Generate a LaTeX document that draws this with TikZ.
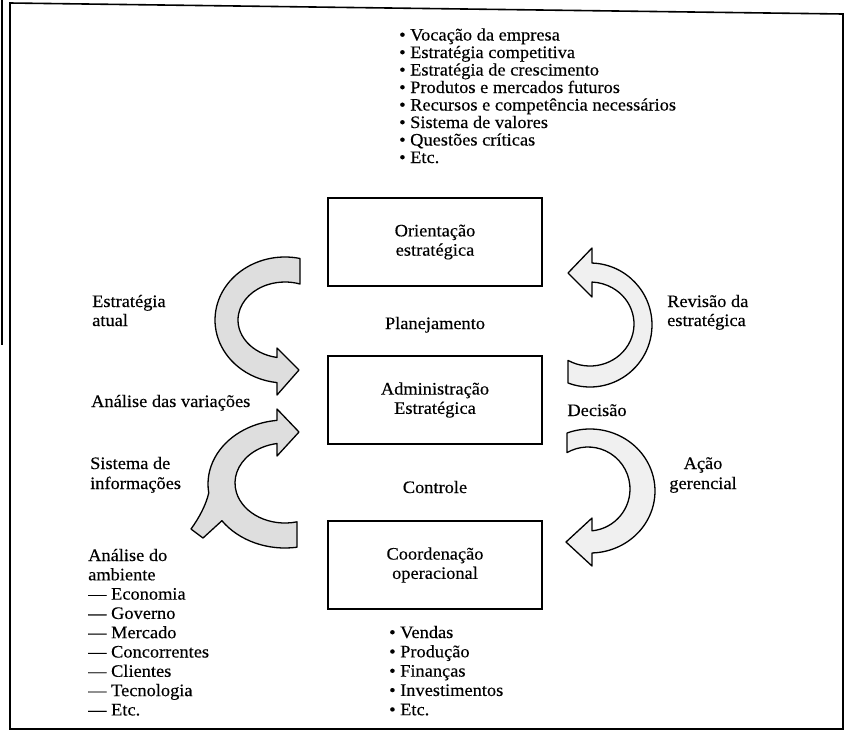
\documentclass[tikz,border=0pt]{standalone}
\usepackage{fontspec}
\setmainfont{Liberation Serif}[FakeStretch=1.05, FakeBold=0.3]
\usetikzlibrary{calc}

\begin{document}
\begin{tikzpicture}[x=1pt,y=-1pt,
  txt/.style={font=\fontsize{17.5}{19.3}\selectfont, inner sep=0pt},
  lft/.style={txt, anchor=base west},
  ctr/.style={txt, anchor=base},
  blk/.style={draw, line width=1.6pt, minimum width=214pt, minimum height=88pt,
              align=center, inner sep=0pt, font=\fontsize{17.5}{19.3}\selectfont},
  flowL/.style={draw, line width=1.3pt, fill=black!13, line join=round},
  flowR/.style={draw, line width=1.3pt, fill=black!6, line join=round}
]
\useasboundingbox (0,0) rectangle (845,732);

% outer frame
\draw[line width=1.6pt] (10,3) -- (843,14) -- (843,729) -- (10,729) -- cycle;
\draw[line width=1.4pt] (2,0) -- (2,345);

% three blocks
\node[blk] (ori) at (435,242) {Orientação\\estratégica};
\node[blk] (adm) at (435,400) {Administração\\Estratégica};
\node[blk] (coo) at (435,565) {Coordenação\\operacional};

% list above the strategic orientation block
\foreach \t [count=\i from 0] in {Vocação da empresa, Estratégia competitiva,
    Estratégia de crescimento, Produtos e mercados futuros,
    Recursos e competência necessários, Sistema de valores,
    Questões críticas, Etc.}
  \node[lft] (top\i) at (399,40.5+17.5*\i) {• \t};

% list below the operational block
\foreach \t [count=\i from 0] in {Vendas, Produção, Finanças, Investimentos, Etc.}
  \node[lft] (bot\i) at (389,638+19.3*\i) {• \t};

% environment analysis list
\node[lft] (amb0) at (88,561) {Análise do};
\node[lft] (amb1) at (88,580.3) {ambiente};
\foreach \t [count=\i from 2] in {Economia, Governo, Mercado, Concorrentes,
    Clientes, Tecnologia, Etc.}
  \node[lft] (amb\i) at (88,561+19.3*\i) {— \t};

% left labels
\node[lft] (ea1) at (92,307) {Estratégia};
\node[lft] (ea2) at (92,326) {atual};
\node[lft] (av) at (91,407) {Análise das variações};
\node[lft] (si1) at (90,469) {Sistema de};
\node[lft] (si2) at (90,489) {informações};

% middle labels
\node[ctr] (plan) at (435,329) {Planejamento};
\node[ctr] (ctrl) at (435,493) {Controle};

% right labels
\node[lft] (re1) at (667,307) {Revisão da};
\node[lft] (re2) at (667,326) {estratégica};
\node[ctr] (dec) at (597,416) {Decisão};
\node[ctr] (ag1) at (703,469) {Ação};
\node[ctr] (ag2) at (703,489) {gerencial};

% curved arrow: current strategy into the management block
\path[flowL] ($(285,320)+(-77.6:70 and 63)$)
  arc[start angle=-77.6, end angle=-263.4, x radius=70, y radius=63]
  -- (277,395) -- (299,370) -- (277,348)
  -- ($(285,320)+(-260.2:47 and 38)$)
  arc[start angle=-260.2, end angle=-71.4, x radius=47, y radius=38]
  -- cycle;

% curved arrow: information system, with the environment input tail
\path[flowL] ($(285,483)+(76.1:50 and 40)$)
  arc[start angle=76.1, end angle=260.8, x radius=50, y radius=40]
  -- (277,456) -- (299,432) -- (277,409)
  -- ($(285,484)+(264:77 and 64)$)
  arc[start angle=264, end angle=172, x radius=77, y radius=64]
  .. controls (206,505) and (199,518) .. (191,529)
  -- (203,538)
  -- ($(285,484)+(145:77 and 64)$)
  arc[start angle=145, end angle=81, x radius=77, y radius=64]
  -- cycle;

% curved arrow: strategy review back to the orientation block
\path[flowR] ($(590,324)+(120:44 and 42)$)
  arc[start angle=120, end angle=-87.4, x radius=44, y radius=42]
  -- (592,297) -- (568,273) -- (592,248)
  -- ($(590,325)+(-88.2:62 and 62)$)
  arc[start angle=-88.2, end angle=110.8, x radius=62, y radius=62]
  -- cycle;

% curved arrow: managerial action down to the operational block
\path[flowR] ($(590,491)+(-110.7:65 and 62)$)
  arc[start angle=-110.7, end angle=88.2, x radius=65, y radius=62]
  -- (592,566) -- (566,542) -- (592,518)
  -- ($(588,489)+(84.5:42 and 42)$)
  arc[start angle=84.5, end angle=-120, x radius=42, y radius=42]
  -- cycle;
\end{tikzpicture}
\end{document}
